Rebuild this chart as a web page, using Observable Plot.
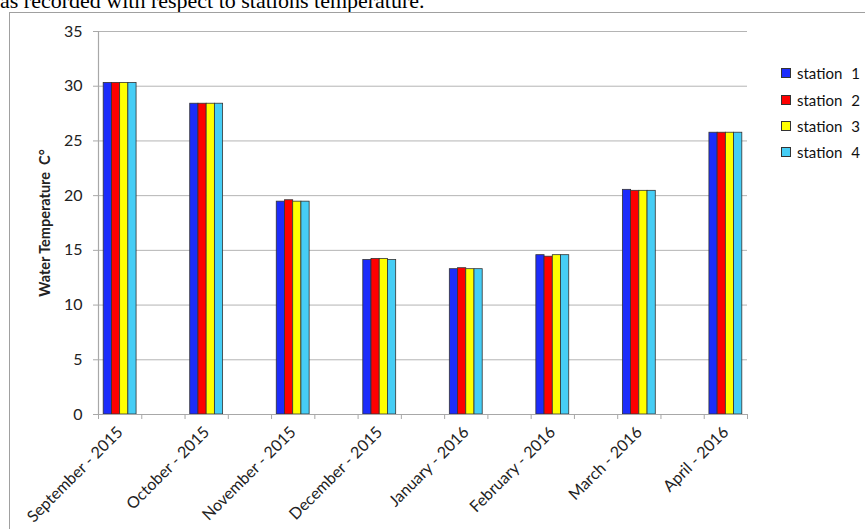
<!DOCTYPE html>
<html>
<head>
<meta charset="utf-8">
<script src="https://cdn.jsdelivr.net/npm/d3@7"></script>
<script src="https://cdn.jsdelivr.net/npm/@observablehq/plot@0.6"></script>
<style>
  html, body { margin: 0; padding: 0; background: #fff; overflow: hidden; }
  #wrap { position: relative; width: 865px; height: 529px; overflow: hidden; }
  #title { position: absolute; left: 0px; top: -10px; font: 22px/22px "Liberation Serif", "Times New Roman", serif; color: #000; white-space: nowrap; }
  #box { position: absolute; left: 9px; top: 12px; width: 900px; height: 600px; border-top: 1.5px solid #a0a0a0; border-left: 1.5px solid #a0a0a0; }
  #chart { position: absolute; left: 0; top: 0; }
  #legend { position: absolute; left: 781px; top: 60px; font: 15px Lato, sans-serif; color: #111; }
  .row { height: 26.4px; display: flex; align-items: center; white-space: nowrap; word-spacing: 5px; }
  .sw { width: 8px; height: 8px; border: 1px solid #333; margin-right: 6px; }
</style>
</head>
<body>
<div id="wrap">
  <div id="title">as recorded with respect to stations temperature.</div>
  <div id="box"></div>
  <div id="chart"></div>
  <div id="legend"></div>
</div>
<script>
const months = ["September - 2015", "October - 2015", "November - 2015", "December - 2015",
                "January - 2016", "February - 2016", "March - 2016", "April - 2016"];
const stations = ["station 1", "station 2", "station 3", "station 4"];
const colors = ["#1c2cfb", "#fd0000", "#ffff00", "#46cdf5"];
const station1 = [30.3, 28.4, 19.45, 14.12, 13.28, 14.56, 20.53, 25.75];
const station2 = [30.3, 28.4, 19.58, 14.22, 13.37, 14.42, 20.44, 25.75];
const station3 = [30.3, 28.4, 19.45, 14.22, 13.28, 14.56, 20.44, 25.75];
const station4 = [30.3, 28.4, 19.45, 14.12, 13.28, 14.56, 20.44, 25.75];
const yTicks = [0, 5, 10, 15, 20, 25, 30, 35];

const series = [station1, station2, station3, station4];
// each month occupies the first half of a unit slot; 4 bars inside it
const barW = 0.095, barOff = 0.06;
const rows = months.flatMap((m, i) => stations.map((s, j) => ({
  month: m, station: s, value: series[j][i],
  x1: i + barOff + j * barW, x2: i + barOff + (j + 1) * barW
})));
const xMax = months.length - 0.5;
const edgeTicks = d3.range(0, xMax + 0.001, 0.5);
const labelTicks = months.map((m, i) => i + 0.25);

const chart = Plot.plot({
  width: 865, height: 529,
  marginLeft: 98, marginRight: 118, marginTop: 31, marginBottom: 115,
  style: { fontFamily: "Lato, sans-serif", fontSize: "16px", color: "#222", background: "transparent" },
  x: { domain: [0, xMax], axis: null },
  y: { domain: [0, 35], axis: null },
  color: { domain: stations, range: colors },
  marks: [
    Plot.gridY(yTicks.filter(d => d > 0), { stroke: "#b4b4b4", strokeOpacity: 1, strokeWidth: 1 }),
    Plot.rectY(rows, { x1: "x1", x2: "x2", y1: 0, y2: "value", fill: "station", stroke: "#333", strokeWidth: 0.8 }),
    Plot.ruleY([0], { stroke: "#a8a8a8", strokeWidth: 1.2 }),
    Plot.ruleX([0], { stroke: "#a8a8a8", strokeWidth: 1.2 }),
    Plot.axisY(yTicks, { tickSize: 5, tickPadding: 11, stroke: "#a8a8a8", fontSize: 16, label: null }),
    Plot.axisY({ ticks: [], tickSize: 0, label: "Water Temperature  C°", labelAnchor: "center", labelArrow: "none", labelOffset: 59, fontSize: 14.5, fontWeight: "bold" }),
    Plot.axisX(edgeTicks, { tickSize: 5, tickFormat: () => "", stroke: "#a8a8a8", label: null }),
    Plot.axisX(labelTicks, { tickSize: 0, tickPadding: 15, tickRotate: -45, tickFormat: d => months[Math.round(d - 0.25)], fontSize: 16, label: null })
  ]
});
document.getElementById("chart").appendChild(chart);

const legend = document.getElementById("legend");
stations.forEach((s, j) => {
  const r = document.createElement("div");
  r.className = "row";
  const sw = document.createElement("span");
  sw.className = "sw";
  sw.style.background = colors[j];
  const t = document.createElement("span");
  t.textContent = s;
  r.appendChild(sw); r.appendChild(t);
  legend.appendChild(r);
});
</script>
</body>
</html>
